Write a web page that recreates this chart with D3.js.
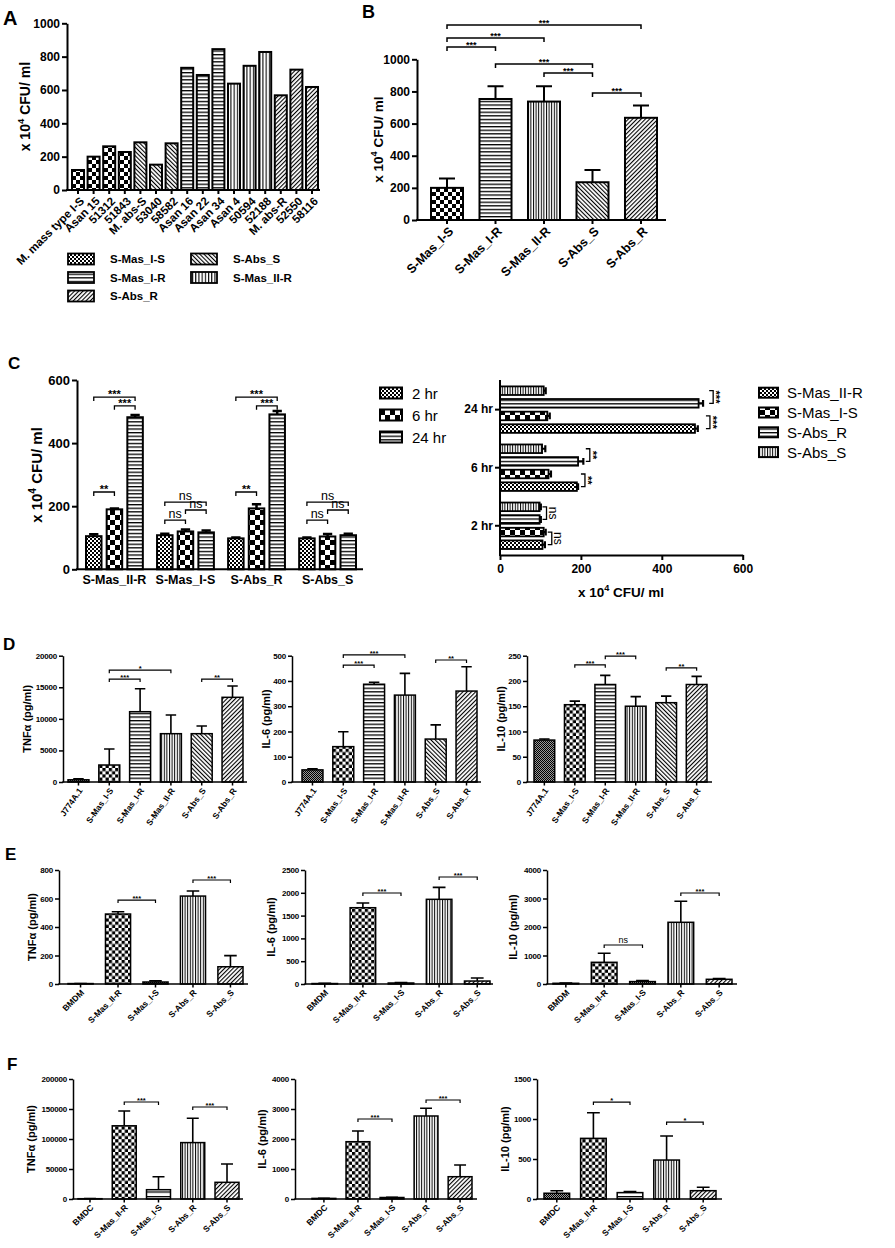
<!DOCTYPE html>
<html><head><meta charset="utf-8">
<script src="https://cdn.jsdelivr.net/npm/d3@7"></script>
<style>
body{margin:0;background:#fff;}
svg{display:block;}
</style></head><body>
<svg id="fig" width="895" height="1248"></svg>
<script>
// ---------------- DATA ----------------
// Panel A
const aStrains = ["M. mass type I-S","Asan 15","51312","51843","M. abs-S","53040","58582","Asan 16","Asan 22","Asan 34","Asan 4","50594","52188","M. abs-R","52550","58116"];
const aValues  = [120,200,262,228,286,152,280,733,690,845,638,745,828,568,722,618];
const aGroups  = ["S-Mas_I-S","S-Mas_I-S","S-Mas_I-S","S-Mas_I-S","S-Abs_S","S-Abs_S","S-Abs_S","S-Mas_I-R","S-Mas_I-R","S-Mas_I-R","S-Mas_II-R","S-Mas_II-R","S-Mas_II-R","S-Abs_R","S-Abs_R","S-Abs_R"];
const aLegend  = ["S-Mas_I-S","S-Abs_S","S-Mas_I-R","S-Mas_II-R","S-Abs_R"];
const cfuTicks = [0,200,400,600,800,1000];

// Panel B
const bStrains = ["S-Mas_I-S","S-Mas_I-R","S-Mas_II-R","S-Abs_S","S-Abs_R"];
const bMeans   = [200,753,737,235,636];
const bErrors  = [58,80,96,76,76];
const bSig     = [["S-Mas_I-S","S-Mas_I-R","***",1077],["S-Mas_I-S","S-Mas_II-R","***",1133],["S-Mas_I-S","S-Abs_R","***",1213],
                  ["S-Mas_I-R","S-Abs_S","***",971],["S-Mas_II-R","S-Abs_S","***",915],["S-Abs_S","S-Abs_R","***",790]];

// Panel C (strain order: S-Mas_II-R, S-Mas_I-S, S-Abs_R, S-Abs_S)
const cStrains = ["S-Mas_II-R","S-Mas_I-S","S-Abs_R","S-Abs_S"];
const cTimes   = ["2 hr","6 hr","24 hr"];
const c2hr     = [105,108,98,98];
const c6hr     = [190,120,193,104];
const c24hr    = [482,117,491,108];
const c2hrErr  = [6,5,3,3];
const c6hrErr  = [3,6,13,8];
const c24hrErr = [7,6,11,5];
const cTicks   = [0,200,400,600];
const cSigR    = [["2 hr","6 hr","**",245],["2 hr","24 hr","***",546],["6 hr","24 hr","***",518]];
const cSigS    = [["2 hr","6 hr","ns",156],["6 hr","24 hr","ns",188],["2 hr","24 hr","ns",213]];
const cHbarTimes   = ["24 hr","6 hr","2 hr"];
const cHbarStrains = ["S-Abs_S","S-Abs_R","S-Mas_I-S","S-Mas_II-R"];
const cHbarLegend  = ["S-Mas_II-R","S-Mas_I-S","S-Abs_R","S-Abs_S"];
const cHbarSig = [["24 hr","S-Abs_S","S-Abs_R","***",527],["24 hr","S-Mas_I-S","S-Mas_II-R","***",519],
                  ["6 hr","S-Abs_S","S-Abs_R","**",222],["6 hr","S-Mas_I-S","S-Mas_II-R","**",210],
                  ["2 hr","S-Abs_S","S-Abs_R","ns",115],["2 hr","S-Mas_I-S","S-Mas_II-R","ns",128]];

// Panel D (J774A.1)
const dCats     = ["J774A.1","S-Mas_I-S","S-Mas_I-R","S-Mas_II-R","S-Abs_S","S-Abs_R"];
const dTnf      = [350,2690,11130,7650,7650,13410];
const dTnfErr   = [150,2530,3640,2960,1220,1790];
const dTnfTicks = [0,5000,10000,15000,20000];
const dTnfSig   = [["S-Mas_I-S","S-Mas_I-R","***",16300],["S-Mas_I-S","S-Mas_II-R","*",17700],["S-Abs_S","S-Abs_R","**",16300]];
const dIl6      = [48,140,387,344,170,360];
const dIl6Err   = [4,59,8,86,56,96];
const dIl6Ticks = [0,100,200,300,400,500];
const dIl6Sig   = [["S-Mas_I-S","S-Mas_I-R","***",463],["S-Mas_I-S","S-Mas_II-R","***",503],["S-Abs_S","S-Abs_R","**",483]];
const dIl10     = [83,153,193,150,157,193];
const dIl10Err  = [2,7,18,19,13,16];
const dIl10Ticks= [0,50,100,150,200,250];
const dIl10Sig  = [["S-Mas_I-S","S-Mas_I-R","***",232],["S-Mas_I-R","S-Mas_II-R","***",249],["S-Abs_S","S-Abs_R","**",226]];

// Panel E (BMDM)
const eCats     = ["BMDM","S-Mas_II-R","S-Mas_I-S","S-Abs_R","S-Abs_S"];
const eTnf      = [3,491,14,617,121];
const eTnfErr   = [1,16,8,36,78];
const eTnfTicks = [0,200,400,600,800];
const eTnfSig   = [["S-Mas_II-R","S-Mas_I-S","***",589],["S-Abs_R","S-Abs_S","***",730]];
const eIl6      = [10,1673,22,1857,65];
const eIl6Err   = [3,103,8,263,65];
const eIl6Ticks = [0,500,1000,1500,2000,2500];
const eIl6Sig   = [["S-Mas_II-R","S-Mas_I-S","***",1996],["S-Abs_R","S-Abs_S","***",2346]];
const eIl10     = [25,761,85,2165,165];
const eIl10Err  = [8,316,40,737,25];
const eIl10Ticks= [0,1000,2000,3000,4000];
const eIl10Sig  = [["S-Mas_II-R","S-Mas_I-S","ns",1368],["S-Abs_R","S-Abs_S","***",3193]];

// Panel F (BMDC)
const fCats     = ["BMDC","S-Mas_II-R","S-Mas_I-S","S-Abs_R","S-Abs_S"];
const fTnf      = [500,122000,15500,94000,27800];
const fTnfErr   = [300,24700,21500,40500,30500];
const fTnfTicks = [0,50000,100000,150000,200000];
const fTnfSig   = [["S-Mas_II-R","S-Mas_I-S","***",161700],["S-Abs_R","S-Abs_S","***",153300]];
const fIl6      = [20,1910,50,2767,743];
const fIl6Err   = [5,357,8,256,390];
const fIl6Ticks = [0,1000,2000,3000,4000];
const fIl6Sig   = [["S-Mas_II-R","S-Mas_I-S","***",2667],["S-Abs_R","S-Abs_S","***",3300]];
const fIl10     = [72,758,80,487,104];
const fIl10Err  = [32,321,12,300,42];
const fIl10Ticks= [0,500,1000,1500];
const fIl10Sig  = [["S-Mas_II-R","S-Mas_I-S","*",1212],["S-Abs_R","S-Abs_S","*",962]];

// ---------------- STYLE / DRAWING ----------------
const FONT = "'Liberation Sans', Arial, Helvetica, sans-serif";
const svg = d3.select("#fig").attr("font-family", FONT);
svg.append("rect").attr("width",895).attr("height",1248).attr("fill","#fff");
const defs = svg.append("defs");

function pat(id, w, h, draw, tr, bg) {
  const p = defs.append("pattern").attr("id", id).attr("patternUnits","userSpaceOnUse")
    .attr("width", w).attr("height", h);
  if (tr) p.attr("patternTransform", tr);
  p.append("rect").attr("width", w).attr("height", h).attr("fill", bg || "#fff");
  draw(p);
}
function checkPat(id, n, bg) {
  pat(id, 2*n, 2*n, p => {
    p.append("rect").attr("width", n).attr("height", n).attr("fill","#000");
    p.append("rect").attr("x", n).attr("y", n).attr("width", n).attr("height", n).attr("fill","#000");
  }, null, bg);
}
function hPat(id, s, sw) { pat(id, 4, s, p => p.append("rect").attr("width",4).attr("height",sw).attr("fill","#000")); }
function vPat(id, s, sw, tr) { pat(id, s, 4, p => p.append("rect").attr("width",sw).attr("height",4).attr("fill","#000"), tr); }
checkPat("g1", 1, "#999");
checkPat("ck2", 2);
checkPat("ck3", 3.2);
checkPat("ck4", 4);
checkPat("ck5", 5);
hPat("hl", 3.6, 1.3);
hPat("hlw", 4.6, 1.3);
vPat("vl", 2.6, 1);
vPat("vlw", 3.2, 1.1);
vPat("dgF", 3, 1.1, "rotate(45)");
vPat("dgB", 3, 1.1, "rotate(-45)");

function styleAxis(ax, fs, w, weight) {
  ax.attr("font-family", FONT).attr("font-size", fs).attr("font-weight", weight || "bold");
  ax.select(".domain").attr("stroke-width", w).attr("stroke","#000");
  ax.selectAll(".tick line").attr("stroke-width", w).attr("stroke","#000");
  ax.selectAll(".tick text").attr("fill","#000");
}
function cfuText(t, fs) {
  t.append("tspan").text("x 10");
  t.append("tspan").attr("dy", -0.42*fs).attr("font-size", fs*0.68).text("4");
  t.append("tspan").attr("dy", 0.42*fs).text(" CFU/ ml");
}
function letter(txt, x, y, fs) {
  svg.append("text").attr("x",x).attr("y",y).attr("font-size",fs).attr("font-weight","bold").attr("fill","#000").text(txt);
}
function bracket(g, xa, xb, yy, lab, b) {
  g.append("path").attr("d", `M${xa},${yy+b.tick}V${yy}H${xb}V${yy+b.tick}`)
    .attr("fill","none").attr("stroke","#000").attr("stroke-width", b.w);
  const ns = lab === "ns";
  g.append("text").attr("x", (xa+xb)/2).attr("y", ns ? yy-2 : yy + b.starFont*0.12)
    .attr("text-anchor","middle").attr("font-weight", ns ? "normal" : "bold")
    .attr("font-size", ns ? b.nsFont : b.starFont).attr("fill","#000").text(lab);
}
function vbracket(g, ya, yb, xx, lab, b) {
  g.append("path").attr("d", `M${xx-b.tick},${ya}H${xx}V${yb}H${xx-b.tick}`)
    .attr("fill","none").attr("stroke","#000").attr("stroke-width", b.w);
  const ns = lab === "ns";
  g.append("text").attr("transform", `translate(${ns ? xx+2.5 : xx-1},${(ya+yb)/2}) rotate(90)`)
    .attr("text-anchor","middle").attr("font-weight", ns ? "normal" : "bold")
    .attr("font-size", ns ? b.nsFont : b.starFont).attr("fill","#000").text(lab);
}

function vbar(o) {
  const g = svg.append("g");
  const y = d3.scaleLinear().domain([0, o.yMax]).range([o.y0, o.yTop]);
  const x = d3.scaleBand().domain(o.cats).range(o.barRange).paddingInner(o.pI).paddingOuter(0);
  const bw = x.bandwidth();
  const rows = o.cats.map((c, i) => ({c, v: o.values[i], e: o.errors ? o.errors[i] : 0, p: o.patterns[i]}));
  if (o.errors) {
    g.selectAll("path.err").data(rows).join("path").attr("class","err")
      .attr("d", d => { const cx = x(d.c) + bw/2, cw = bw*0.25, t = y(d.v + d.e);
        return `M${cx},${y(d.v)}V${t}M${cx-cw},${t}H${cx+cw}`; })
      .attr("stroke","#000").attr("stroke-width", o.errW).attr("fill","none");
  }
  g.selectAll("rect.bar").data(rows).join("rect").attr("class","bar")
    .attr("x", d => x(d.c)).attr("width", bw)
    .attr("y", d => y(d.v)).attr("height", d => y(0) - y(d.v))
    .attr("fill", d => `url(#${d.p})`).attr("stroke","#000").attr("stroke-width", o.barW);
  const ya = g.append("g").attr("transform", `translate(${o.axisX0},0)`)
    .call(d3.axisLeft(y).tickValues(o.ticks).tickSize(o.tickLen).tickSizeOuter(0).tickPadding(o.tickPad || 2).tickFormat(d => String(d)));
  styleAxis(ya, o.tickFont, o.axisW);
  if (o.tickSpacing) ya.selectAll(".tick text").attr("letter-spacing", o.tickSpacing);
  const xa = g.append("g").attr("transform", `translate(0,${o.y0})`)
    .call(d3.axisBottom(x).tickSize(o.xTickLen).tickSizeOuter(0));
  xa.select(".domain").remove();
  styleAxis(xa, o.labelFont, o.axisW);
  xa.selectAll(".tick text").attr("y", 0).attr("x", 0).attr("dy", "0.35em").attr("text-anchor","end")
    .attr("transform", `translate(${o.labDx},${o.labDy}) rotate(${o.rot})`);
  g.append("line").attr("x1", o.axisX0 - o.axisW/2).attr("x2", o.axisX1).attr("y1", o.y0).attr("y2", o.y0)
    .attr("stroke","#000").attr("stroke-width", o.axisW);
  const yl = g.append("text").attr("transform", `translate(${o.yLabX},${(o.y0+o.yTop)/2}) rotate(-90)`)
    .attr("text-anchor","middle").attr("font-weight","bold").attr("font-size", o.yLabFont).attr("fill","#000");
  if (o.cfu) cfuText(yl, o.yLabFont); else yl.text(o.yLabel);
  (o.sig || []).forEach(s => bracket(g, x(s[0]) + bw/2, x(s[1]) + bw/2, y(s[3]), s[2], o.br));
  return g;
}

// ---- Panel A ----
const aPat = {"S-Mas_I-S":"ck4","S-Abs_S":"dgB","S-Mas_I-R":"hl","S-Mas_II-R":"vlw","S-Abs_R":"dgF"};
const aLegPat = {"S-Mas_I-S":"ck2","S-Abs_S":"dgB","S-Mas_I-R":"hl","S-Mas_II-R":"vlw","S-Abs_R":"dgF"};
letter("A", 3, 25, 20);
vbar({cats:aStrains, values:aValues, errors:null, patterns:aGroups.map(k => aPat[k]),
  yMax:1000, ticks:cfuTicks, y0:190, yTop:23.3, axisX0:67, axisX1:320, barRange:[72,318], pI:0.23,
  tickLen:5, tickFont:12, labelFont:11.5, xTickLen:4, rot:-45, labDx:4, labDy:9,
  axisW:2, barW:2, errW:2, yLabX:30, yLabFont:14, cfu:true});
const legA = svg.append("g").attr("font-weight","bold").attr("font-size",11.5);
aLegend.forEach((name, i) => {
  const col = i % 2, row = Math.floor(i/2);
  const ix = col ? 191 : 68, tx = col ? 233 : 110, cy = 259 + row*18.5;
  legA.append("rect").attr("x", ix).attr("y", cy-5.5).attr("width", 26).attr("height", 11)
    .attr("fill", `url(#${aLegPat[name]})`).attr("stroke","#000").attr("stroke-width",1.8);
  legA.append("text").attr("x", tx).attr("y", cy+4).attr("fill","#000").text(name);
});

// ---- Panel B ----
const bPat = {"S-Mas_I-S":"ck4","S-Mas_I-R":"hl","S-Mas_II-R":"vl","S-Abs_S":"dgB","S-Abs_R":"dgF"};
letter("B", 362, 18, 18);
vbar({cats:bStrains, values:bMeans, errors:bErrors, patterns:bStrains.map(k => bPat[k]),
  yMax:1000, ticks:cfuTicks, y0:220, yTop:59.3, axisX0:417, axisX1:666, barRange:[431,657], pI:0.34,
  tickLen:5, tickFont:12, labelFont:12.5, xTickLen:4, rot:-45, labDx:4, labDy:9,
  axisW:2, barW:2, errW:2, yLabX:383, yLabFont:13.5, cfu:true,
  sig:bSig, br:{tick:4, w:1.5, starFont:9, nsFont:11}});

// ---- Panel C (left, grouped) ----
letter("C", 8, 369, 17);
const cMeans = [c2hr, c6hr, c24hr];
const cErrs  = [c2hrErr, c6hrErr, c24hrErr];
const cTimePat = {"2 hr":"ck2","6 hr":"ck5","24 hr":"hl"};
{
  const g = svg.append("g");
  const y = d3.scaleLinear().domain([0,600]).range([569.3, 380]);
  const x0 = d3.scaleBand().domain(cStrains).range([86,356]).paddingInner(0.2).paddingOuter(0);
  const x1 = d3.scaleBand().domain(cTimes).range([0, x0.bandwidth()]).paddingInner(0.25);
  const bw = x1.bandwidth();
  const rows = [];
  cStrains.forEach((s, si) => cTimes.forEach((t, ti) => rows.push({s, t, v: cMeans[ti][si], e: cErrs[ti][si]})));
  g.selectAll("path.err").data(rows).join("path").attr("class","err")
    .attr("d", d => { const cx = x0(d.s) + x1(d.t) + bw/2, cw = bw*0.3, tp = y(d.v + d.e);
      return `M${cx},${y(d.v)}V${tp}M${cx-cw},${tp}H${cx+cw}`; })
    .attr("stroke","#000").attr("stroke-width",2.5).attr("fill","none");
  g.selectAll("rect.bar").data(rows).join("rect").attr("class","bar")
    .attr("x", d => x0(d.s) + x1(d.t)).attr("width", bw)
    .attr("y", d => y(d.v)).attr("height", d => y(0) - y(d.v))
    .attr("fill", d => `url(#${cTimePat[d.t]})`).attr("stroke","#000").attr("stroke-width",2);
  const ya = g.append("g").attr("transform","translate(77,0)")
    .call(d3.axisLeft(y).tickValues(cTicks).tickSize(5).tickSizeOuter(0).tickPadding(2));
  styleAxis(ya, 13, 2);
  const xa = g.append("g").attr("transform","translate(0,569.3)")
    .call(d3.axisBottom(x0).tickSize(0).tickPadding(6));
  xa.select(".domain").remove();
  styleAxis(xa, 12.5, 2);
  g.append("line").attr("x1",76).attr("x2",363).attr("y1",569.3).attr("y2",569.3).attr("stroke","#000").attr("stroke-width",2);
  const yl = g.append("text").attr("transform","translate(42,475) rotate(-90)").attr("text-anchor","middle")
    .attr("font-weight","bold").attr("font-size",15).attr("fill","#000");
  cfuText(yl, 15);
  const br = {tick:4, w:1.3, starFont:11, nsFont:12.5};
  cStrains.forEach(s => {
    const sig = (s === "S-Mas_I-S" || s === "S-Abs_S") ? cSigS : cSigR;
    sig.forEach(q => bracket(g, x0(s) + x1(q[0]) + bw/2, x0(s) + x1(q[1]) + bw/2, y(q[3]), q[2], br));
  });
  // legend (times)
  const lg = svg.append("g").attr("font-size",15);
  cTimes.forEach((t, i) => {
    const cy = 393 + i*22;
    lg.append("rect").attr("x",380).attr("y",cy-5.5).attr("width",22).attr("height",11)
      .attr("fill", `url(#${cTimePat[t]})`).attr("stroke","#000").attr("stroke-width",2);
    lg.append("text").attr("x",412).attr("y",cy+5.5).attr("fill","#000").text(t);
  });
}

// ---- Panel C (right, horizontal) ----
const cStrainPat = {"S-Mas_II-R":"ck2","S-Mas_I-S":"ck5","S-Abs_R":"hl","S-Abs_S":"vl"};
{
  const g = svg.append("g");
  const x = d3.scaleLinear().domain([0,600]).range([500, 742.7]);
  const y0 = d3.scaleBand().domain(cHbarTimes).range([386.4, 549]).paddingInner(0.2).paddingOuter(0);
  const y1 = d3.scaleBand().domain(cHbarStrains).range([0, y0.bandwidth()]).paddingInner(0.32);
  const bh = y1.bandwidth();
  const rows = [];
  cHbarTimes.forEach(t => cHbarStrains.forEach(s => {
    const ti = cTimes.indexOf(t), si = cStrains.indexOf(s);
    rows.push({t, s, v: cMeans[ti][si], e: cErrs[ti][si]});
  }));
  g.selectAll("path.err").data(rows).join("path").attr("class","err")
    .attr("d", d => { const cy = y0(d.t) + y1(d.s) + bh/2, ch = bh*0.4, r = x(d.v + d.e);
      return `M${x(d.v)},${cy}H${r}M${r},${cy-ch}V${cy+ch}`; })
    .attr("stroke","#000").attr("stroke-width",2.2).attr("fill","none");
  g.selectAll("rect.bar").data(rows).join("rect").attr("class","bar")
    .attr("x", x(0)).attr("width", d => x(d.v) - x(0))
    .attr("y", d => y0(d.t) + y1(d.s)).attr("height", bh)
    .attr("fill", d => `url(#${cStrainPat[d.s]})`).attr("stroke","#000").attr("stroke-width",1.8);
  const xa = g.append("g").attr("transform","translate(0,555)")
    .call(d3.axisBottom(x).tickValues(cTicks).tickSize(5).tickSizeOuter(0).tickPadding(4));
  styleAxis(xa, 12, 2);
  const ya = g.append("g").attr("transform","translate(500,0)")
    .call(d3.axisLeft(y0).tickSize(5).tickSizeOuter(0).tickPadding(2));
  ya.select(".domain").remove();
  styleAxis(ya, 12, 2);
  g.append("line").attr("x1",500).attr("x2",500).attr("y1",380).attr("y2",556).attr("stroke","#000").attr("stroke-width",2);
  const xl = g.append("text").attr("x",621).attr("y",597).attr("text-anchor","middle")
    .attr("font-weight","bold").attr("font-size",13.5).attr("fill","#000");
  cfuText(xl, 13.5);
  const br = {tick:4, w:1.3, starFont:11, nsFont:12};
  cHbarSig.forEach(q => {
    const ya1 = y0(q[0]) + y1(q[1]) + bh/2, yb1 = y0(q[0]) + y1(q[2]) + bh/2;
    vbracket(g, ya1, yb1, x(q[4]), q[3], br);
  });
  const lg = svg.append("g").attr("font-size",15);
  cHbarLegend.forEach((s, i) => {
    const cy = 392.7 + i*19.8;
    lg.append("rect").attr("x",759).attr("y",cy-5).attr("width",19).attr("height",10)
      .attr("fill", `url(#${cStrainPat[s]})`).attr("stroke","#000").attr("stroke-width",2);
    lg.append("text").attr("x",787).attr("y",cy+5.5).attr("fill","#000").text(s);
  });
}

// ---- Panels D, E, F ----
const small = {tickLen:4, tickFont:8, tickSpacing:-0.2, xTickLen:3.5, labDx:2, labDy:7, axisW:1.5, barW:1.5, errW:1.6, yLabFont:11,
  br:{tick:3, w:1.2, starFont:7.5, nsFont:9}};
const dPat = ["g1","ck3","hl","vl","dgB","dgF"];
const efPatE = ["g1","ck3","g1","vl","dgF"];
const efPatF = ["g1","ck3","hlw","vl","dgF"];

letter("D", 3, 650, 17);
const dRow = {y0:782, yTop:655.7, labelFont:8.5, rot:-55};
vbar(Object.assign({}, small, dRow, {cats:dCats, values:dTnf, errors:dTnfErr, patterns:dPat, yMax:20000, ticks:dTnfTicks,
  axisX0:63, axisX1:247, barRange:[68,243], pI:0.32, yLabX:31, yLabel:"TNFα (pg/ml)", sig:dTnfSig}));
vbar(Object.assign({}, small, dRow, {cats:dCats, values:dIl6, errors:dIl6Err, patterns:dPat, yMax:500, ticks:dIl6Ticks,
  axisX0:292, axisX1:481, barRange:[302,477], pI:0.32, yLabX:270, yLabel:"IL-6 (pg/ml)", sig:dIl6Sig}));
vbar(Object.assign({}, small, dRow, {cats:dCats, values:dIl10, errors:dIl10Err, patterns:dPat, yMax:250, ticks:dIl10Ticks,
  axisX0:527, axisX1:712, barRange:[534,707], pI:0.32, yLabX:505, yLabel:"IL-10 (pg/ml)", sig:dIl10Sig}));

letter("E", 5, 860, 17);
const eRow = {y0:984, yTop:870, labelFont:8.5, rot:-45};
vbar(Object.assign({}, small, eRow, {cats:eCats, values:eTnf, errors:eTnfErr, patterns:efPatE, yMax:800, ticks:eTnfTicks,
  axisX0:59, axisX1:248, barRange:[68,243], pI:0.33, yLabX:36, yLabel:"TNFα (pg/ml)", sig:eTnfSig}));
vbar(Object.assign({}, small, eRow, {cats:eCats, values:eIl6, errors:eIl6Err, patterns:efPatE, yMax:2500, ticks:eIl6Ticks,
  axisX0:305, axisX1:493, barRange:[312,490], pI:0.33, yLabX:275, yLabel:"IL-6 (pg/ml)", sig:eIl6Sig}));
vbar(Object.assign({}, small, eRow, {cats:eCats, values:eIl10, errors:eIl10Err, patterns:efPatE, yMax:4000, ticks:eIl10Ticks,
  axisX0:547, axisX1:737, barRange:[553,732], pI:0.33, yLabX:517, yLabel:"IL-10 (pg/ml)", sig:eIl10Sig}));

letter("F", 7, 1070, 17);
const fRow = {y0:1199, yTop:1079, labelFont:8.5, rot:-45, tickFont:8};
vbar(Object.assign({}, small, fRow, {cats:fCats, values:fTnf, errors:fTnfErr, patterns:efPatF, yMax:200000, ticks:fTnfTicks,
  axisX0:73, axisX1:243, barRange:[78,239], pI:0.3, yLabX:35, yLabel:"TNFα (pg/ml)", sig:fTnfSig}));
vbar(Object.assign({}, small, fRow, {cats:fCats, values:fIl6, errors:fIl6Err, patterns:efPatF, yMax:4000, ticks:fIl6Ticks,
  axisX0:295, axisX1:477, barRange:[312,472], pI:0.3, yLabX:266, yLabel:"IL-6 (pg/ml)", sig:fIl6Sig}));
vbar(Object.assign({}, small, fRow, {cats:fCats, values:fIl10, errors:fIl10Err, patterns:efPatF, yMax:1500, ticks:fIl10Ticks,
  axisX0:537, axisX1:722, barRange:[544,716], pI:0.3, yLabX:509, yLabel:"IL-10 (pg/ml)", sig:fIl10Sig}));
</script>
</body></html>
